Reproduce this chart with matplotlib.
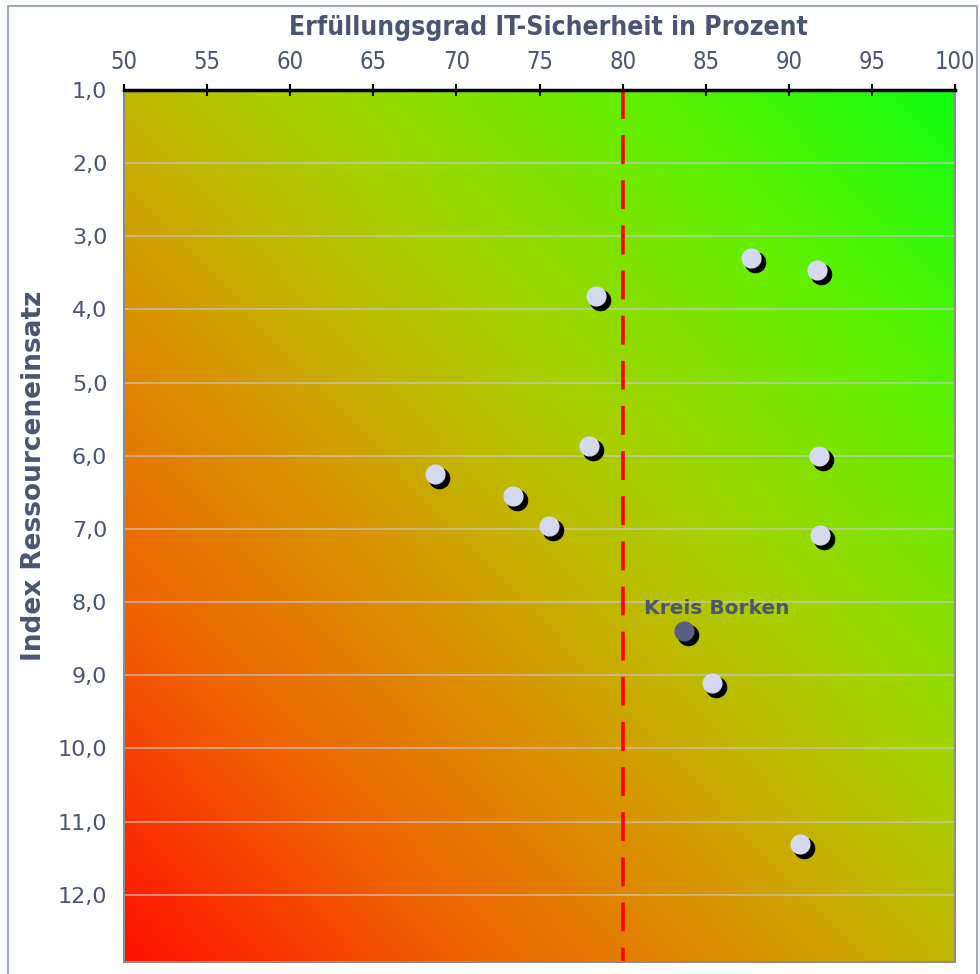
import numpy as np
import matplotlib
matplotlib.use("Agg")
import matplotlib.pyplot as plt
import matplotlib.transforms as mtransforms
from matplotlib.colors import LinearSegmentedColormap
from matplotlib.patches import Rectangle

# Erfüllungsgrad (%) and Index Ressourceneinsatz for the other districts
erfuellung = [87.7, 91.7, 78.4, 78.0, 91.8, 68.7, 73.4, 75.6, 91.9, 85.4, 90.7]
ressourcen = [3.30, 3.46, 3.81, 5.86, 6.00, 6.25, 6.55, 6.96, 7.08, 9.11, 11.31]

# highlighted district
borken_label = "Kreis Borken"
borken_x = 83.7
borken_y = 8.40

x_ticks = [50, 55, 60, 65, 70, 75, 80, 85, 90, 95, 100]
y_ticks = [1, 2, 3, 4, 5, 6, 7, 8, 9, 10, 11, 12]
threshold = 80

text_col = "#4a5573"

fig = plt.figure(figsize=(9.8, 9.74), dpi=100)
ax = fig.add_axes([124 / 980, 1 - 962 / 974, (955 - 124) / 980, (962 - 90) / 974])

# frame around the whole chart
fig.patches.append(Rectangle((8 / 980, -0.1), (977 - 8) / 980, 1.1 - 6 / 974,
                             transform=fig.transFigure, fill=False,
                             edgecolor="#8a97b5", linewidth=1.2))

# diagonal background gradient: red (bottom-left) -> olive -> green (top-right)
stops = [(0.0, (255, 16, 0)), (0.2, (240, 96, 0)), (0.4, (214, 152, 0)),
         (0.5, (192, 184, 0)), (0.6, (165, 210, 0)), (0.8, (96, 240, 0)),
         (1.0, (16, 255, 16))]
cmap = LinearSegmentedColormap.from_list(
    "ampel", [(p, tuple(c / 255 for c in rgb)) for p, rgb in stops])
u = np.linspace(0, 1, 400)
v = np.linspace(1, 0, 400)  # row 0 = top
U, V = np.meshgrid(u, v)
grad = (U + V) / 2
ax.imshow(grad, cmap=cmap, vmin=0, vmax=1, extent=[0, 1, 0, 1], transform=ax.transAxes,
          aspect="auto", zorder=0, interpolation="bilinear")

ax.set_xlim(50, 100)
ax.set_ylim(12.92, 1.0)

# horizontal grid
for yv in y_ticks[1:]:
    ax.axhline(yv, color="#c8c8c8", linewidth=1.2, alpha=0.75, zorder=1)

# threshold line, drawn from the top down so the dashes start at the top
ax.plot([threshold, threshold], [1.0, 12.92], color="#ff0000", linewidth=2.6,
        linestyle=(0, (8, 4.5)), zorder=2)

# points with shadow
shadow = mtransforms.offset_copy(ax.transData, fig=fig, x=4, y=-4, units="dots")
ax.plot(erfuellung, ressourcen, "o", ms=14.5, color="black", transform=shadow, zorder=3)
ax.plot(erfuellung, ressourcen, "o", ms=14.5, color="#d5d9ef", mec="none", zorder=4)
ax.plot([borken_x], [borken_y], "o", ms=14.5, color="black", transform=shadow, zorder=3)
ax.plot([borken_x], [borken_y], "o", ms=14.5, color="#56607f", mec="none", zorder=4)
ax.text(85.68, 8.09, borken_label, ha="center", va="center",
        fontsize=14.5, fontweight="bold", color=text_col, zorder=5)

# axes styling
ax.xaxis.tick_top()
ax.xaxis.set_label_position("top")
ax.set_xticks(x_ticks)
ax.set_xticklabels([str(t) for t in x_ticks], fontsize=17, fontstretch="condensed",
                   color=text_col)
ax.tick_params(axis="x", direction="inout", length=9, width=1.5, color="black", pad=7)
ax.set_yticks(y_ticks)
ax.set_yticklabels([f"{t},0" for t in y_ticks], fontsize=16, color=text_col)
ax.tick_params(axis="y", length=0, pad=12)

ax.set_xlabel("Erfüllungsgrad IT-Sicherheit in Prozent", fontsize=19,
              fontstretch="condensed", fontweight="bold", color=text_col, labelpad=11)
ax.xaxis.label.set_x(0.511)
ax.set_ylabel("Index Ressourceneinsatz", fontsize=19, fontweight="bold", color=text_col)
ax.yaxis.set_label_coords(-0.093, 0.558)

for side in ["left", "right", "bottom"]:
    ax.spines[side].set_color("#8c8c8c")
    ax.spines[side].set_linewidth(1.5)
ax.spines["top"].set_color("black")
ax.spines["top"].set_linewidth(2.5)

fig.savefig("out.png", dpi=100)
